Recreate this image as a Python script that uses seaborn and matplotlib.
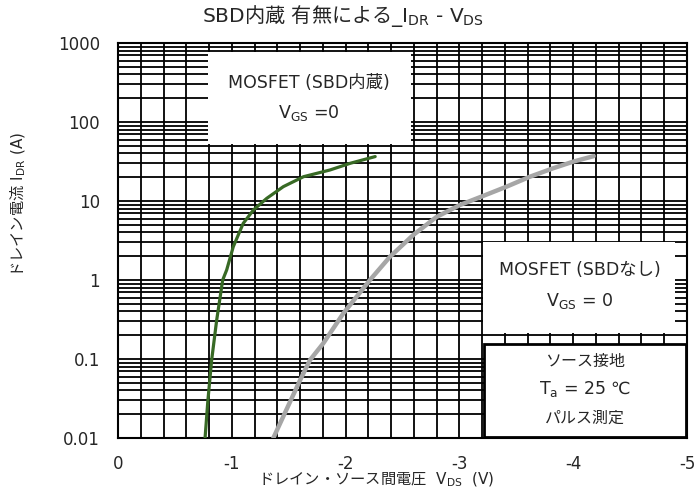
import matplotlib
matplotlib.use("Agg")
import matplotlib.pyplot as plt
import matplotlib.ticker as mticker
from matplotlib.patches import Rectangle
import seaborn as sns
import pandas as pd
import numpy as np

# ---- data ----
sbd_vds = [-0.765, -0.79, -0.823, -0.867, -0.92, -0.955, -1.013, -1.10, -1.19, -1.307, -1.453, -1.63, -1.863, -2.04, -2.26]
sbd_idr = [0.01, 0.03, 0.097, 0.31, 1.0, 1.34, 2.64, 5.2, 7.7, 10.8, 15.2, 20.3, 24.7, 30.0, 36.5]
nosbd_vds = [-1.365, -1.60, -1.687, -1.804, -1.98, -2.214, -2.39, -2.595, -2.80, -3.005, -3.196, -3.415, -3.62, -3.825, -4.0, -4.18]
nosbd_idr = [0.01, 0.054, 0.097, 0.158, 0.378, 1.0, 1.97, 3.72, 6.3, 8.9, 11.4, 15.2, 20.3, 26.0, 31.5, 37.0]
x_ticks = [0, -1, -2, -3, -4, -5]
x_tick_labels = ["0", "-1", "-2", "-3", "-4", "-5"]
y_ticks = [0.01, 0.1, 1, 10, 100, 1000]
y_tick_labels = ["0.01", "0.1", "1", "10", "100", "1000"]
title = "SBD$\\mathsf{内蔵\\ 有無による}$_I$_{\\mathregular{DR}}$ - V$_{\\mathregular{DS}}$"
xlabel = "$\\mathsf{ドレイン・ソース間電圧}$  V$_{\\mathregular{DS}}$  (V)"
ylabel = "$\\mathsf{ドレイン電流}$ I$_{\\mathregular{DR}}$ (A)"

sns.set_theme(style="white")
plt.rcParams["font.family"] = ["DejaVu Sans", "Noto Sans CJK JP"]
plt.rcParams["mathtext.fontset"] = "custom"
plt.rcParams["mathtext.rm"] = "DejaVu Sans"
plt.rcParams["mathtext.sf"] = "Noto Sans CJK JP"
plt.rcParams["axes.unicode_minus"] = False

txt = "#262626"
fig = plt.figure(figsize=(6.96, 4.90), dpi=100)
ax = fig.add_axes([118/696, 1-438/490, (687-118)/696, (438-43)/490])

df1 = pd.DataFrame({"Vds": sbd_vds, "Idr": sbd_idr})
df2 = pd.DataFrame({"Vds": nosbd_vds, "Idr": nosbd_idr})
sns.lineplot(data=df1, x="Vds", y="Idr", ax=ax, color="#386a25", lw=2.3, sort=False, zorder=2.6)
sns.lineplot(data=df2, x="Vds", y="Idr", ax=ax, color="#a6a6a6", lw=3.2, sort=False, zorder=2.6)

ax.set_yscale("log")
ax.set_xlim(0, -5)
ax.set_ylim(0.01, 1000)
ax.set_xticks(x_ticks)
ax.set_xticklabels(x_tick_labels)
ax.set_yticks(y_ticks)
ax.set_yticklabels(y_tick_labels)
ax.xaxis.set_minor_locator(mticker.MultipleLocator(0.2))
ax.yaxis.set_minor_locator(mticker.LogLocator(base=10, subs=np.arange(2, 10)))
ax.yaxis.set_minor_formatter(mticker.NullFormatter())
ax.grid(True, which="both", color="black", lw=1.3)
ax.tick_params(which="both", length=0, labelsize=12, colors=txt)
ax.tick_params(axis="x", pad=12)
ax.tick_params(axis="y", pad=13)
ax.set_xlabel("")
ax.set_ylabel("")
for s in ax.spines.values():
    s.set_color("black")
    s.set_linewidth(1.5)

def box(x0, y0, x1, y1, edge=False):
    r = Rectangle((x0, y0), x1-x0, y1-y0, transform=ax.transAxes, facecolor="white",
                  edgecolor="black" if edge else "none", lw=2.0 if edge else 0, zorder=3, clip_on=False)
    ax.add_patch(r)

def px(x, y):
    return ((x-118)/569, 1-(y-43)/395)

fs = 12.5
# box 1
box(*px(208, 144), *px(411, 52))
ax.text(*px(309, 83), "MOSFET (SBD内蔵)", transform=ax.transAxes, ha="center", va="center", fontsize=fs, color=txt, zorder=4)
ax.text(*px(309, 113), "V$_{\\mathregular{GS}}$ =0", transform=ax.transAxes, ha="center", va="center", fontsize=fs, color=txt, zorder=4)
# box 2
box(*px(483, 333), *px(675, 242))
ax.text(*px(580, 270), "MOSFET (SBDなし)", transform=ax.transAxes, ha="center", va="center", fontsize=fs, color=txt, zorder=4)
ax.text(*px(580, 301), "V$_{\\mathregular{GS}}$ = 0", transform=ax.transAxes, ha="center", va="center", fontsize=fs, color=txt, zorder=4)
# box 3
box(*px(484, 437), *px(686, 344), edge=True)
ax.text(*px(585, 361), "ソース接地", transform=ax.transAxes, ha="center", va="center", fontsize=11.5, color=txt, zorder=4)
ax.text(*px(585, 389), "T$_{\\mathregular{a}}$ = 25 ℃", transform=ax.transAxes, ha="center", va="center", fontsize=12.5, color=txt, zorder=4)
ax.text(*px(585, 418), "パルス測定", transform=ax.transAxes, ha="center", va="center", fontsize=11.5, color=txt, zorder=4)

fig.text(343/696, 1-16/490, title, ha="center", va="center", fontsize=14.5, color=txt)
fig.text(376/696, 1-480/490, xlabel, ha="center", va="center", fontsize=11, color=txt)
fig.text(18/696, 1-204/490, ylabel, ha="center", va="center", rotation=90, fontsize=11, color=txt)

fig.savefig("out.png", dpi=100)
